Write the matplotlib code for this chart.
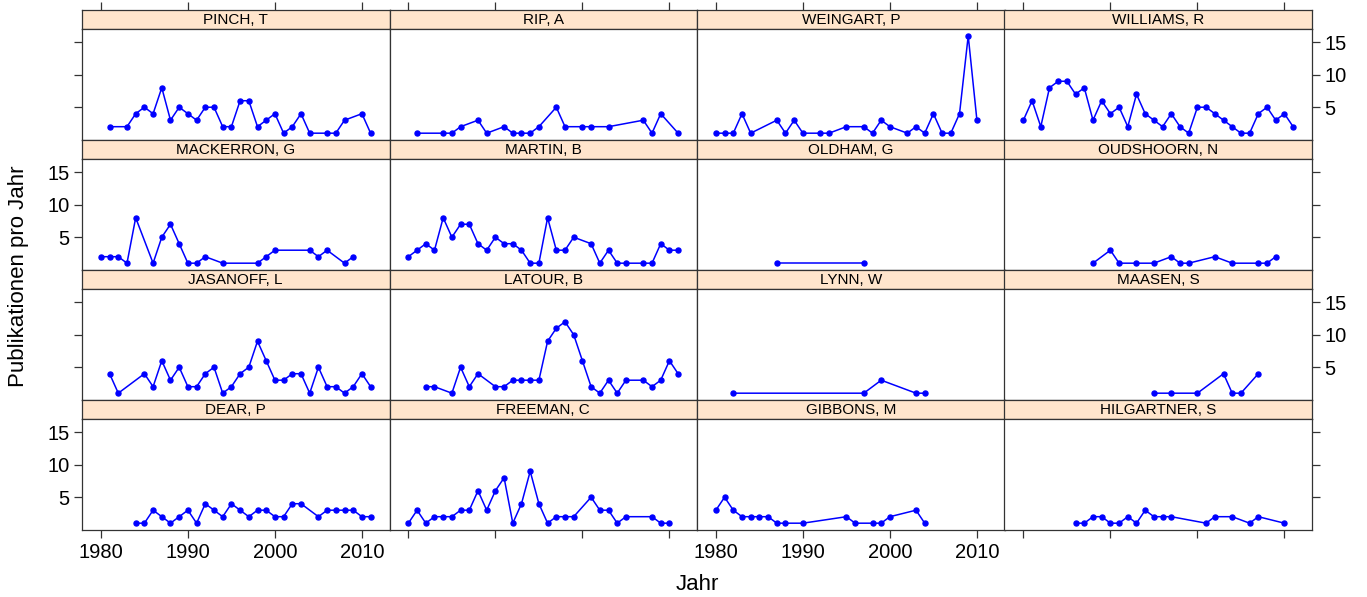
import matplotlib.pyplot as plt

plt.rcParams['font.family'] = ['Liberation Sans', 'DejaVu Sans']

# --- Data: publications per year, panels in display order (top-left first) ---
names = ["PINCH, T", "RIP, A", "WEINGART, P", "WILLIAMS, R",
         "MACKERRON, G", "MARTIN, B", "OLDHAM, G", "OUDSHOORN, N",
         "JASANOFF, L", "LATOUR, B", "LYNN, W", "MAASEN, S",
         "DEAR, P", "FREEMAN, C", "GIBBONS, M", "HILGARTNER, S"]

pinch_years = [1981, 1983, 1984, 1985, 1986, 1987, 1988, 1989, 1990, 1991, 1992, 1993, 1994, 1995,
               1996, 1997, 1998, 1999, 2000, 2001, 2002, 2003, 2004, 2006, 2007, 2008, 2010, 2011]
pinch_counts = [2, 2, 4, 5, 4, 8, 3, 5, 4, 3, 5, 5, 2, 2, 6, 6, 2, 3, 4, 1, 2, 4, 1, 1, 1, 3, 4, 1]

rip_years = [1981, 1984, 1985, 1986, 1988, 1989, 1991, 1992, 1993, 1994, 1995, 1997, 1998, 2000,
             2001, 2003, 2007, 2008, 2009, 2011]
rip_counts = [1, 1, 1, 2, 3, 1, 2, 1, 1, 1, 2, 5, 2, 2, 2, 2, 3, 1, 4, 1]

weingart_years = [1980, 1981, 1982, 1983, 1984, 1987, 1988, 1989, 1990, 1992, 1993, 1995, 1997,
                  1998, 1999, 2000, 2002, 2003, 2004, 2005, 2006, 2007, 2008, 2009, 2010]
weingart_counts = [1, 1, 1, 4, 1, 3, 1, 3, 1, 1, 1, 2, 2, 1, 3, 2, 1, 2, 1, 4, 1, 1, 4, 16, 3]

williams_years = list(range(1980, 2012))
williams_counts = [3, 6, 2, 8, 9, 9, 7, 8, 3, 6, 4, 5, 2, 7, 4, 3, 2, 4, 2, 1, 5, 5, 4, 3, 2, 1,
                   1, 4, 5, 3, 4, 2]

mackerron_years = [1980, 1981, 1982, 1983, 1984, 1986, 1987, 1988, 1989, 1990, 1991, 1992, 1994,
                   1998, 1999, 2000, 2004, 2005, 2006, 2008, 2009]
mackerron_counts = [2, 2, 2, 1, 8, 1, 5, 7, 4, 1, 1, 2, 1, 1, 2, 3, 3, 2, 3, 1, 2]

martin_years = [1980, 1981, 1982, 1983, 1984, 1985, 1986, 1987, 1988, 1989, 1990, 1991, 1992,
                1993, 1994, 1995, 1996, 1997, 1998, 1999, 2001, 2002, 2003, 2004, 2005, 2007,
                2008, 2009, 2010, 2011]
martin_counts = [2, 3, 4, 3, 8, 5, 7, 7, 4, 3, 5, 4, 4, 3, 1, 1, 8, 3, 3, 5, 4, 1, 3, 1, 1, 1,
                 1, 4, 3, 3]

oldham_years = [1987, 1997]
oldham_counts = [1, 1]

oudshoorn_years = [1988, 1990, 1991, 1993, 1995, 1997, 1998, 1999, 2002, 2004, 2007, 2008, 2009]
oudshoorn_counts = [1, 3, 1, 1, 1, 2, 1, 1, 2, 1, 1, 1, 2]

jasanoff_years = [1981, 1982, 1985, 1986, 1987, 1988, 1989, 1990, 1991, 1992, 1993, 1994, 1995,
                  1996, 1997, 1998, 1999, 2000, 2001, 2002, 2003, 2004, 2005, 2006, 2007, 2008,
                  2009, 2010, 2011]
jasanoff_counts = [4, 1, 4, 2, 6, 3, 5, 2, 2, 4, 5, 1, 2, 4, 5, 9, 6, 3, 3, 4, 4, 1, 5, 2, 2, 1,
                   2, 4, 2]

latour_years = [1982, 1983, 1985, 1986, 1987, 1988, 1990, 1991, 1992, 1993, 1994, 1995, 1996,
                1997, 1998, 1999, 2000, 2001, 2002, 2003, 2004, 2005, 2007, 2008, 2009, 2010, 2011]
latour_counts = [2, 2, 1, 5, 2, 4, 2, 2, 3, 3, 3, 3, 9, 11, 12, 10, 6, 2, 1, 3, 1, 3, 3, 2, 3,
                 6, 4]

lynn_years = [1982, 1997, 1999, 2003, 2004]
lynn_counts = [1, 1, 3, 1, 1]

maasen_years = [1995, 1997, 2000, 2003, 2004, 2005, 2007]
maasen_counts = [1, 1, 1, 4, 1, 1, 4]

dear_years = [1984, 1985, 1986, 1987, 1988, 1989, 1990, 1991, 1992, 1993, 1994, 1995, 1996,
              1997, 1998, 1999, 2000, 2001, 2002, 2003, 2005, 2006, 2007, 2008, 2009, 2010, 2011]
dear_counts = [1, 1, 3, 2, 1, 2, 3, 1, 4, 3, 2, 4, 3, 2, 3, 3, 2, 2, 4, 4, 2, 3, 3, 3, 3, 2, 2]

freeman_years = [1980, 1981, 1982, 1983, 1984, 1985, 1986, 1987, 1988, 1989, 1990, 1991, 1992,
                 1993, 1994, 1995, 1996, 1997, 1998, 1999, 2001, 2002, 2003, 2004, 2005, 2008,
                 2009, 2010]
freeman_counts = [1, 3, 1, 2, 2, 2, 3, 3, 6, 3, 6, 8, 1, 4, 9, 4, 1, 2, 2, 2, 5, 3, 3, 1, 2, 2,
                  1, 1]

gibbons_years = [1980, 1981, 1982, 1983, 1984, 1985, 1986, 1987, 1988, 1990, 1995, 1996, 1998,
                 1999, 2000, 2003, 2004]
gibbons_counts = [3, 5, 3, 2, 2, 2, 2, 1, 1, 1, 2, 1, 1, 1, 2, 3, 1]

hilgartner_years = [1986, 1987, 1988, 1989, 1990, 1991, 1992, 1993, 1994, 1995, 1996, 1997, 2001,
                    2002, 2004, 2006, 2007, 2010]
hilgartner_counts = [1, 1, 2, 2, 1, 1, 2, 1, 3, 2, 2, 2, 1, 2, 2, 1, 2, 1]

series = [(pinch_years, pinch_counts), (rip_years, rip_counts),
          (weingart_years, weingart_counts), (williams_years, williams_counts),
          (mackerron_years, mackerron_counts), (martin_years, martin_counts),
          (oldham_years, oldham_counts), (oudshoorn_years, oudshoorn_counts),
          (jasanoff_years, jasanoff_counts), (latour_years, latour_counts),
          (lynn_years, lynn_counts), (maasen_years, maasen_counts),
          (dear_years, dear_counts), (freeman_years, freeman_counts),
          (gibbons_years, gibbons_counts), (hilgartner_years, hilgartner_counts)]

x_ticks = [1980, 1990, 2000, 2010]
y_ticks = [5, 10, 15]
x_lim = (1977.83, 2013.17)

# --- Layout (pixels) ---
W, H = 1367, 597
fig = plt.figure(figsize=(W / 100, H / 100), dpi=100)

left, right = 82, 1312
top, bottom = 10, 530
pw = (right - left) / 4
rh = (bottom - top) / 4
strip_h = 19
frame = '#333333'

for i, (name, (yrs, cnt)) in enumerate(zip(names, series)):
    r, c = divmod(i, 4)
    x0 = left + c * pw
    y0 = top + r * rh

    # strip (top row carries the upper axis ticks)
    sax = fig.add_axes([x0 / W, 1 - (y0 + strip_h) / H, pw / W, strip_h / H])
    sax.set_facecolor('#ffe5cc')
    sax.set_xlim(*x_lim)
    sax.set_xticks(x_ticks if r == 0 else [])
    sax.set_yticks([])
    sax.tick_params(direction='out', length=6, width=0.9, color=frame,
                    top=(r == 0), bottom=False, labeltop=False, labelbottom=False)
    for sp in sax.spines.values():
        sp.set_color(frame)
        sp.set_linewidth(0.9)
    sax.text(0.5, 0.45, name, ha='center', va='center', fontsize=11,
             transform=sax.transAxes)

    # panel
    ax = fig.add_axes([x0 / W, 1 - (y0 + rh) / H, pw / W, (rh - strip_h) / H])
    ax.plot(yrs, cnt, '-o', color='#0000ff', lw=1.1, ms=3.6)
    ax.set_xlim(*x_lim)
    ax.set_ylim(-0.05, 17.05)
    ax.set_xticks(x_ticks)
    ax.set_yticks(y_ticks)
    for sp in ax.spines.values():
        sp.set_color(frame)
        sp.set_linewidth(0.9)
    ax.tick_params(direction='out', length=6, width=0.9, color=frame,
                   labelsize=14.5, pad=3,
                   left=(c == 0), labelleft=(c == 0 and r in (1, 3)),
                   right=(c == 3), labelright=(c == 3 and r in (0, 2)),
                   bottom=(r == 3), labelbottom=(r == 3 and c in (0, 2)),
                   top=False, labeltop=False)

fig.text((left + right) / 2 / W, 1 - 584 / H, 'Jahr', ha='center', va='center', fontsize=16)
fig.text(19 / W, 1 - 276 / H, 'Publikationen pro Jahr', ha='center', va='center',
         rotation=90, fontsize=16)

fig.savefig('out.png', dpi=100)
